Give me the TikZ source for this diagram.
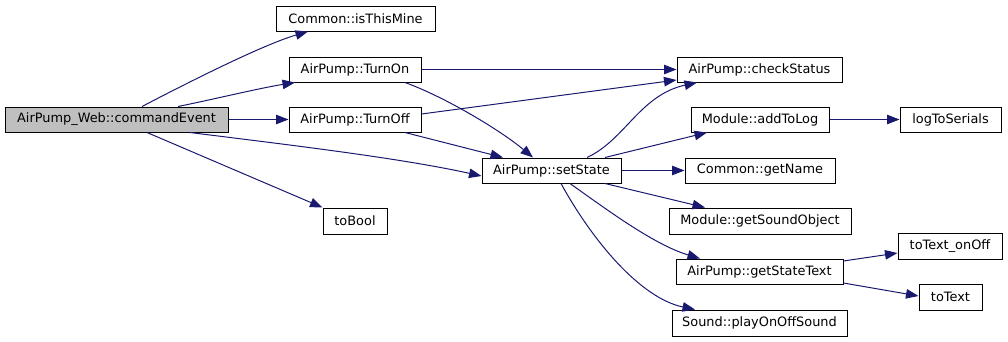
\documentclass[tikz,border=0pt]{standalone}
\usepackage{fontspec}
\setmainfont{DejaVu Sans}
\usetikzlibrary{arrows.meta}
\definecolor{edgeblue}{HTML}{191970}
\definecolor{rootgray}{HTML}{BFBFBF}
\begin{document}
\begin{tikzpicture}[x=1pt,y=-1pt,
  fn/.style={draw=black,line width=1pt,rectangle,inner sep=0pt,minimum height=25pt,
    font=\fontsize{12.9}{15}\selectfont,fill=white},
  root/.style={fn,fill=rootgray},
  call/.style={draw=edgeblue,line width=1pt,-{Triangle[length=12.5pt,width=9.5pt]},fill=none}]
\useasboundingbox (0,0) rectangle (1008,341);

% functions
\node[root,minimum width=223pt] (ce)  at (116.5,119.5) {AirPump\_Web::commandEvent};
\node[fn,minimum width=159pt]   (itm) at (355.5,18.5)  {Common::isThisMine};
\node[fn,minimum width=132pt]   (on)  at (355,69.5)    {AirPump::TurnOn};
\node[fn,minimum width=132pt]   (off) at (355,119.5)   {AirPump::TurnOff};
\node[fn,minimum width=64pt,minimum height=26pt] (tb) at (355,221) {toBool};
\node[fn,minimum width=139pt]   (ss)  at (551.5,170.5) {AirPump::setState};
\node[fn,minimum width=165pt]   (cs)  at (759.5,69.5)  {AirPump::checkStatus};
\node[fn,minimum width=138pt]   (atl) at (760,119.5)   {Module::addToLog};
\node[fn,minimum width=150pt]   (gn)  at (760,170.5)   {Common::getName};
\node[fn,minimum width=182pt,minimum height=26pt] (gso) at (760,221) {Module::getSoundObject};
\node[fn,minimum width=167pt]   (gst) at (759.5,271.5) {AirPump::getStateText};
\node[fn,minimum width=175pt,minimum height=26pt] (pos) at (759.5,323) {Sound::playOnOffSound};
\node[fn,minimum width=101pt]   (lts) at (950.5,119.5) {logToSerials};
\node[fn,minimum width=104pt,minimum height=26pt] (tto) at (950,246) {toText\_onOff};
\node[fn,minimum width=63pt,minimum height=26pt]  (tt)  at (950.5,297) {toText};

% calls from commandEvent
\draw[call] ([xshift=25.5pt]ce.north) .. controls (185,84) and (262,45) .. ([xshift=-47.5pt]itm.south);
\draw[call] ([xshift=61.5pt]ce.north) .. controls (215,99) and (260,88) .. ([xshift=-60pt]on.south);
\draw[call] (ce.east) -- (off.west);
\draw[call] ([xshift=73.5pt]ce.south) .. controls (290,145) and (400,158) .. ([yshift=-5.5pt]ss.west);
\draw[call] ([xshift=30.5pt]ce.south) -- (tb.north west);

% calls from TurnOn / TurnOff
\draw[call] (on.east) -- (cs.west);
\draw[call] ([xshift=50pt]on.south) .. controls (445,97) and (500,130) .. ([xshift=-18.5pt]ss.north);
\draw[call] ([yshift=5.5pt]off.east) -- ([yshift=-10.5pt]cs.west);
\draw[call] ([xshift=50pt]off.south) -- ([xshift=-48.5pt]ss.north);

% calls from setState
\draw[call] ([xshift=35.5pt]ss.north) .. controls (625,140) and (640,95) .. ([xshift=-62.5pt]cs.south);
\draw[call] ([xshift=53.5pt]ss.north) -- ([xshift=-53pt]atl.south);
\draw[call] (ss.east) -- (gn.west);
\draw[call] ([xshift=53.5pt]ss.south) -- ([xshift=-55pt]gso.north);
\draw[call] ([xshift=18.5pt]ss.south) .. controls (610,212) and (655,245) .. ([xshift=-59.5pt]gst.north);
\draw[call] ([xshift=9.5pt]ss.south) .. controls (592,240) and (640,298) .. ([xshift=-64.5pt]pos.north);

% further calls
\draw[call] (atl.east) -- (lts.west);
\draw[call] ([yshift=10.5pt]gst.east) -- ([yshift=-7pt]tto.west);
\draw[call] ([yshift=-11.5pt]gst.east) -- ([yshift=1pt]tt.west);
\end{tikzpicture}
\end{document}
